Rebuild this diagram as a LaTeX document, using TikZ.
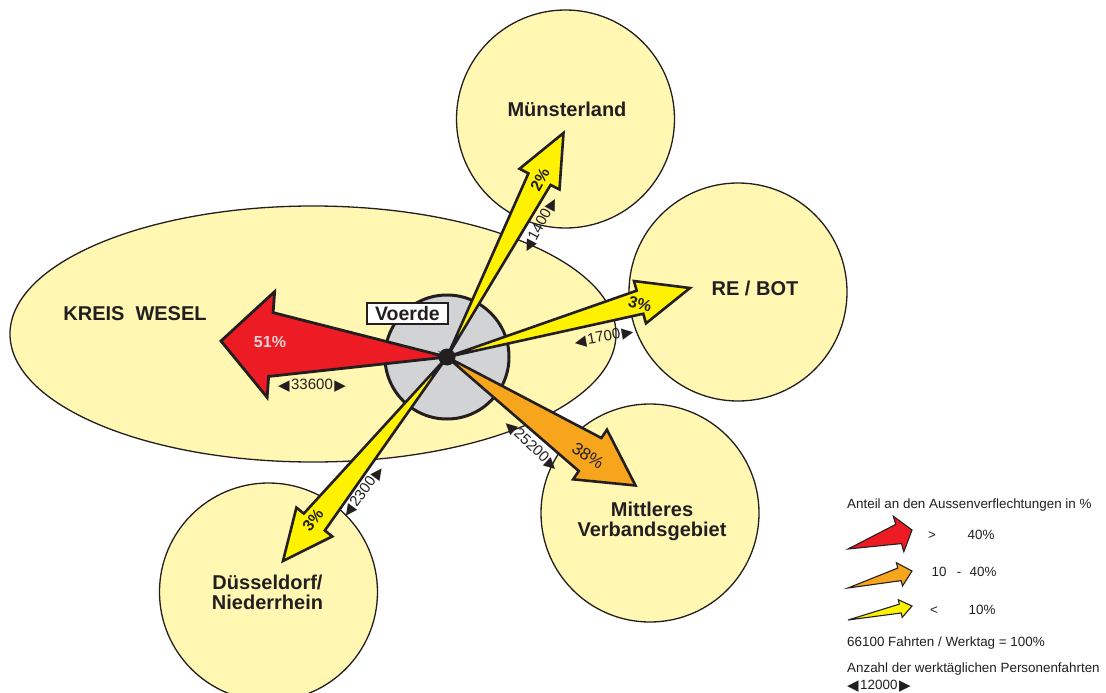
\documentclass[tikz,border=0pt]{standalone}
\usepackage{fontspec}
\setmainfont{Liberation Sans}
\newfontfamily\symfont{DejaVu Sans}
\usetikzlibrary{calc}
\definecolor{regfill}{HTML}{FFF7B2}
\definecolor{voerdegrey}{HTML}{D1D3D4}
\definecolor{arrred}{HTML}{ED1C24}
\definecolor{arrorange}{HTML}{F7A51C}
\definecolor{arryellow}{HTML}{FFF200}
\definecolor{ink}{HTML}{231F20}
\definecolor{pinklabel}{HTML}{E3D3D6}
% tail, tip, head length, shaft half width, head half width, colour, line width
\newcommand{\flowarrow}[7]{%
  \coordinate (fa-b) at ($(#2)!#3!(#1)$);
  \filldraw[draw=ink, line width=#7, line join=miter, miter limit=10, fill=#6]
    (#1) -- ($(fa-b)!#4!90:(#2)$) -- ($(fa-b)!#5!90:(#2)$) -- (#2)
    -- ($(fa-b)!#5!-90:(#2)$) -- ($(fa-b)!#4!-90:(#2)$) -- cycle;
}
\newcommand{\tri}[1]{\raisebox{-0.8pt}{\symfont\fontsize{15}{15}\selectfont #1}}
\newcommand{\cnt}[1]{\tri{◀}\kern1.5pt#1\kern1.5pt\tri{▶}}
\tikzset{
  regionline/.style={draw=ink, line width=1.3pt},
  regiontext/.style={font=\fontsize{20}{20}\selectfont\bfseries, text=ink, align=center, inner sep=0pt},
  pcttext/.style={font=\fontsize{16}{18}\selectfont\bfseries, text=ink, inner sep=0pt},
  numtext/.style={font=\fontsize{15}{17}\selectfont, text=ink, inner sep=0pt},
  legtext/.style={font=\fontsize{13.4}{16}\selectfont, text=ink, inner sep=0pt, anchor=base west},
  legitem/.style={font=\fontsize{13.4}{16}\selectfont, text=ink, inner sep=0pt, anchor=base},
}
\begin{document}
\begin{tikzpicture}[x=1pt,y=-1pt]
\useasboundingbox[fill=white] (0,0) rectangle (1106,693);

% regions (overlaps left white)
\fill[regfill, even odd rule]
  (313,334) ellipse [x radius=303, y radius=128]
  (565.5,119) circle [radius=109]
  (738,292) circle [radius=109]
  (650,513) circle [radius=109]
  (268.5,592) circle [radius=109];
\draw[regionline] (313,334) ellipse [x radius=303, y radius=128];
\draw[regionline] (565.5,119) circle [radius=109];
\draw[regionline] (738,292) circle [radius=109];
\draw[regionline] (650,513) circle [radius=109];
\draw[regionline] (268.5,592) circle [radius=109];

% Voerde
\coordinate (C) at (447,357);
\filldraw[fill=voerdegrey, draw=ink, line width=3pt] (C) circle [radius=62];

% arrows
\coordinate (tRed) at (221,341);
\coordinate (tMun) at (563.5,133);
\coordinate (tRe)  at (690,288);
\coordinate (tMit) at (635.5,485.5);
\coordinate (tDue) at (283,561);
\flowarrow{C}{tRed}{50pt}{32pt}{53pt}{arrred}{2.8pt}
\flowarrow{C}{tMun}{52pt}{12.5pt}{22.5pt}{arryellow}{2.6pt}
\flowarrow{C}{tRe}{52pt}{12pt}{22pt}{arryellow}{2.6pt}
\flowarrow{C}{tMit}{55pt}{20pt}{30pt}{arrorange}{2.6pt}
\flowarrow{C}{tDue}{50pt}{13.5pt}{23pt}{arryellow}{2.6pt}
\fill[ink] (C) circle [radius=8.5];

\node[draw=ink, line width=1.5pt, fill=white, minimum width=81pt, minimum height=21pt, inner sep=0pt,
      font=\fontsize{19.5}{20}\selectfont\bfseries, text=ink] (voerde) at (407.5,313.5) {Voerde};

% region names
\node[regiontext] (kreis) at (135,314) {KREIS\hspace{11pt}WESEL};
\node[regiontext] (muenster) at (567,109) {Münsterland};
\node[regiontext] (rebot) at (755,288) {RE / BOT};
\node[regiontext] (mittl) at (652,521) {Mittleres\\Verbandsgebiet};
\node[regiontext] (duess) at (267.5,592) {Düsseldorf/\\Niederrhein};

% percentages
\node[pcttext, text=pinklabel] (p51) at (270,342) {51\%};
\node[pcttext, rotate=62] (p2) at (540,180) {2\%};
\node[pcttext, rotate=-15] (p3a) at (640,304) {3\%};
\node[pcttext, font=\fontsize{17}{18}\selectfont, rotate=-33] (p38) at (588,456) {38\%};
\node[pcttext, rotate=52] (p3b) at (313,520) {3\%};

% counts
\node[numtext] (n33600) at (312,385.5) {\cnt{33600}};
\node[numtext, rotate=62] (n1400) at (540.5,225) {\cnt{1400}};
\node[numtext, rotate=10] (n1700) at (604,337.5) {\cnt{1700}};
\node[numtext, rotate=-43] (n25200) at (531,446) {\cnt{25200}};
\node[numtext, rotate=54] (n2300) at (363.5,492) {\cnt{2300}};

% legend
\node[legtext] (lg1) at (847,508) {Anteil an den Aussenverflechtungen in \%};
\coordinate (lr0) at (848,549); \coordinate (lr1) at (912,530);
\coordinate (lo0) at (848,588); \coordinate (lo1) at (912,571);
\coordinate (ly0) at (848,620); \coordinate (ly1) at (912,606);
\flowarrow{lr0}{lr1}{14pt}{10pt}{18.5pt}{arrred}{1.1pt}
\flowarrow{lo0}{lo1}{13pt}{6.5pt}{12pt}{arrorange}{1.1pt}
\flowarrow{ly0}{ly1}{12pt}{4.5pt}{9pt}{arryellow}{1.1pt}
\node[legitem] (lgt1) at (932,539) {>};
\node[legitem] (lgv1) at (981,539) {40\%};
\node[legitem] (lgt2) at (939,576) {10};
\node[legitem] (lgd2) at (959,576) {-};
\node[legitem] (lgv2) at (983,576) {40\%};
\node[legitem] (lgt3) at (934,614) {<};
\node[legitem] (lgv3) at (982,614) {10\%};
\node[legtext] (lg2) at (847,646) {66100 Fahrten / Werktag = 100\%};
\node[legtext] (lg3) at (847,672) {Anzahl der werktäglichen Personenfahrten};
\node[legtext] (lg4) at (847,689.5) {\cnt{12000}};
\end{tikzpicture}
\end{document}
